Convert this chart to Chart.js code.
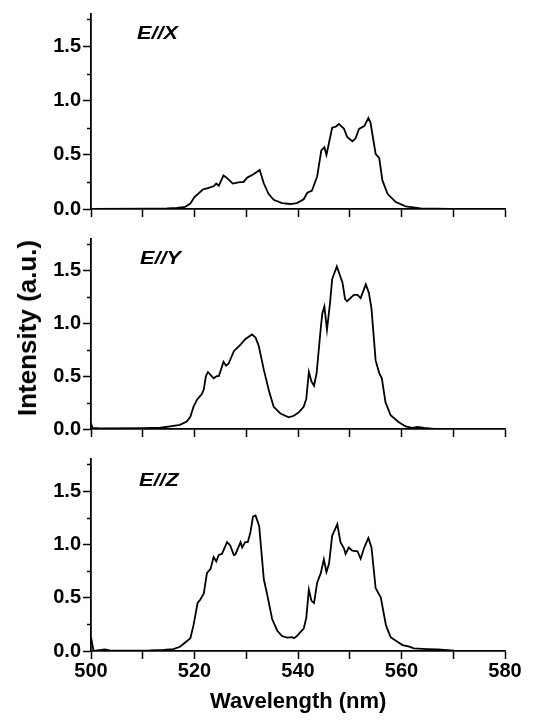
<!DOCTYPE html>
<html>
<head>
<meta charset="utf-8">
<script src="https://cdn.jsdelivr.net/npm/chart.js@4.4.0/dist/chart.umd.min.js"></script>
<style>
  body { margin: 0; background: #fff; }
  #wrap { position: relative; width: 547px; height: 725px; font-family: "Liberation Sans", Arial, sans-serif; }
  canvas { position: absolute; left: 0; }
  .lbl { position: absolute; font-weight: bold; font-style: italic; font-size: 18px; line-height: 18px; color: #000;
         transform: scaleX(1.2); transform-origin: left top; }
  .title { position: absolute; font-weight: bold; font-size: 22px; line-height: 22px; color: #000; white-space: nowrap; }
</style>
</head>
<body>
<div id="wrap">
  <canvas id="cx" width="547" height="225" style="top:0"></canvas>
  <canvas id="cy" width="547" height="225" style="top:225px"></canvas>
  <canvas id="cz" width="547" height="280" style="top:445px"></canvas>
  <div class="lbl" style="left:137px;top:24px">E//X</div>
  <div class="lbl" style="left:140px;top:249px">E//Y</div>
  <div class="lbl" style="left:139px;top:471px">E//Z</div>
  <div class="title" style="left:210px;top:690px">Wavelength (nm)</div>
  <div class="title" style="left:27px;top:328px;font-size:26px;line-height:26px;transform:translate(-50%,-50%) rotate(-90deg)">Intensity (a.u.)</div>
</div>
<script>
'use strict';

// wavelength (nm) and intensity (a.u.)
let wlX = [500, 511.4, 514.7, 516.6, 518.2, 519.2, 520.0, 521.6, 522.4, 523.7, 524.2, 524.7, 525.6, 526.3, 527.4, 528.5,
    529.5, 530.2, 531.4, 532.6, 533.4, 534.3, 535.3, 536.9, 538.5, 539.8, 541.1, 541.8, 542.7, 543.7, 544.5, 545.1,
    545.5, 546.6, 547.3, 547.9, 548.9, 549.5, 550.5, 551.1, 551.8, 552.8, 553.6, 554.0, 555.0, 555.7, 556.3, 557.3,
    558.9, 560.8, 563.7, 569.5, 580];
let intX = [0, 0.003, 0.005, 0.01, 0.02, 0.05, 0.11, 0.18, 0.19, 0.21, 0.235, 0.215, 0.31, 0.285, 0.235, 0.245,
    0.25, 0.29, 0.32, 0.36, 0.235, 0.14, 0.085, 0.055, 0.046, 0.055, 0.09, 0.15, 0.17, 0.3, 0.54, 0.57,
    0.50, 0.75, 0.76, 0.785, 0.74, 0.665, 0.625, 0.65, 0.74, 0.765, 0.84, 0.8, 0.51, 0.47, 0.266, 0.14,
    0.064, 0.025, 0.006, 0.002, 0];

let wlY = [500, 500.3, 501.7, 510.1, 513.4, 515.3, 517.2, 518.5, 519.2, 519.8, 520.5, 521.4, 521.8, 522.2, 522.6, 523.7,
    524.3, 524.7, 525.6, 526.1, 526.6, 527.6, 528.9, 529.8, 531.1, 531.8, 532.4, 533.4, 534.4, 535.3, 536.6, 538.2,
    539.2, 540.2, 541.1, 541.6, 542.1, 542.6, 543.1, 543.6, 544.4, 544.7, 545.1, 545.6, 546.2, 546.6, 547.5, 548.6,
    549.1, 549.5, 550.8, 551.5, 552.1, 553.1, 553.7, 554.2, 555.0, 555.7, 556.2, 556.9, 557.9, 559.5, 560.8, 562.1,
    563.1, 564.4, 566.3, 580];
let intY = [0.055, 0.01, 0.005, 0.008, 0.012, 0.025, 0.04, 0.07, 0.116, 0.21, 0.28, 0.33, 0.376, 0.5, 0.54, 0.48,
    0.5, 0.5, 0.636, 0.6, 0.62, 0.737, 0.8, 0.85, 0.896, 0.866, 0.79, 0.56, 0.36, 0.21, 0.147, 0.11,
    0.125, 0.16, 0.21, 0.285, 0.54, 0.45, 0.41, 0.53, 0.957, 1.095, 1.16, 0.94, 1.2, 1.42, 1.54, 1.385,
    1.23, 1.21, 1.27, 1.27, 1.24, 1.37, 1.29, 1.14, 0.65, 0.53, 0.48, 0.254, 0.13, 0.064, 0.024, 0.01,
    0.02, 0.01, 0.002, 0];

let wlZ = [500, 500.5, 502.7, 503.7, 508.2, 511.4, 514.0, 515.9, 517.2, 518.2, 519.2, 519.8, 520.6, 521.1, 521.8, 522.4,
    523.1, 523.7, 524.2, 524.7, 525.3, 526.3, 526.9, 527.6, 527.9, 528.9, 529.2, 529.8, 530.3, 530.8, 531.3, 531.8,
    532.5, 533.4, 534.0, 535.0, 536.0, 536.9, 537.9, 538.9, 539.2, 539.8, 540.5, 541.1, 541.6, 542.1, 542.6, 543.1,
    543.7, 544.4, 545.0, 545.5, 546.0, 546.6, 547.6, 548.2, 548.9, 549.2, 549.8, 550.5, 551.5, 552.1, 552.8, 553.6,
    554.2, 555.0, 556.0, 557.0, 557.9, 559.2, 560.2, 561.5, 562.4, 565.0, 567.0, 570.2, 580];
let intZ = [0.13, 0, 0.015, 0.003, 0.003, 0.005, 0.01, 0.018, 0.04, 0.08, 0.12, 0.24, 0.45, 0.48, 0.54, 0.73,
    0.77, 0.88, 0.84, 0.9, 0.91, 1.02, 0.99, 0.9, 0.905, 1.02, 0.97, 1.02, 1.02, 1.11, 1.26, 1.27,
    1.17, 0.67, 0.54, 0.3, 0.19, 0.14, 0.125, 0.13, 0.12, 0.14, 0.18, 0.21, 0.31, 0.575, 0.47, 0.45,
    0.64, 0.73, 0.86, 0.74, 0.82, 1.08, 1.19, 1.02, 0.96, 0.91, 0.97, 0.94, 0.935, 0.865, 0.97, 1.06,
    0.97, 0.59, 0.5, 0.24, 0.13, 0.086, 0.055, 0.04, 0.024, 0.018, 0.015, 0.003, 0];

let xTicks = [500, 510, 520, 530, 540, 550, 560, 570, 580];
let yMajor = [0, 0.5, 1.0, 1.5];
let yMinor = [0.25, 0.75, 1.25, 1.75];

let tickFont = { family: "'Liberation Sans', Arial, sans-serif", size: 20, weight: 'bold' };

// short minor ticks on the y axis
let minorTicks = {
    id: 'minorTicks',
    afterDraw(chart) {
        let ctx = chart.ctx;
        let y = chart.scales.y;
        ctx.save();
        ctx.strokeStyle = '#000';
        ctx.lineWidth = 1.5;
        for (let v of yMinor) {
            let py = Math.round(y.getPixelForValue(v)) + 0.5;
            ctx.beginPath();
            ctx.moveTo(y.right, py);
            ctx.lineTo(y.right - 4, py);
            ctx.stroke();
        }
        ctx.restore();
    }
};

function makePanel(id, wl, vals, padTop, axisHeight, showX) {
    let points = wl.map((w, i) => ({ x: w, y: vals[i] }));
    return new Chart(document.getElementById(id), {
        type: 'line',
        data: {
            datasets: [{
                data: points,
                borderColor: '#000',
                borderWidth: 1.8,
                pointRadius: 0,
                tension: 0,
                fill: false
            }]
        },
        options: {
            responsive: false,
            animation: false,
            devicePixelRatio: 1,
            layout: { padding: { top: padTop, right: 42, left: 0, bottom: 0 } },
            plugins: { legend: { display: false }, tooltip: { enabled: false } },
            scales: {
                x: {
                    type: 'linear',
                    min: 500,
                    max: 580,
                    afterBuildTicks: (scale) => { scale.ticks = xTicks.map(v => ({ value: v })); },
                    afterFit: (scale) => { scale.height = axisHeight; },
                    border: { display: true, color: '#000', width: 1.8 },
                    grid: { drawOnChartArea: false, drawTicks: true, tickLength: 8, tickColor: '#000', tickWidth: 1.5 },
                    ticks: {
                        display: showX,
                        color: '#000',
                        font: tickFont,
                        padding: 0,
                        maxRotation: 0,
                        autoSkip: false,
                        callback: (v) => (v % 20 === 0 ? String(v) : '')
                    }
                },
                y: {
                    min: 0,
                    max: 1.8,
                    afterBuildTicks: (scale) => { scale.ticks = yMajor.map(v => ({ value: v })); },
                    afterFit: (scale) => { scale.width = 91; },
                    border: { display: true, color: '#000', width: 1.8 },
                    grid: { drawOnChartArea: false, drawTicks: true, tickLength: 8, tickColor: '#000', tickWidth: 1.5 },
                    ticks: {
                        color: '#000',
                        font: tickFont,
                        padding: 2,
                        callback: (v) => v.toFixed(1)
                    }
                }
            }
        },
        plugins: [minorTicks]
    });
}

makePanel('cx', wlX, intX, 13, 16, false);
makePanel('cy', wlY, intY, 8, 21, false);
makePanel('cz', wlZ, intZ, 10, 74, true);
</script>
</body>
</html>
